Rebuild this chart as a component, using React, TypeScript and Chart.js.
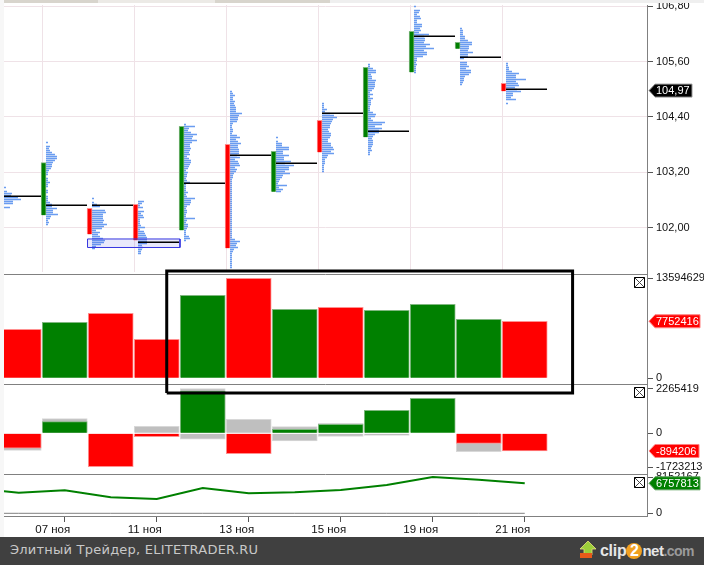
import React, { useEffect, useRef } from "react";
import { Chart, registerables } from "chart.js";

Chart.register(...registerables);

const days = ["06 ноя", "07 ноя", "08 ноя", "11 ноя", "12 ноя", "13 ноя", "14 ноя", "15 ноя", "18 ноя", "19 ноя", "20 ноя", "21 ноя"];
const direction = ["down", "up", "down", "down", "up", "down", "up", "down", "up", "up", "up", "down"];
const labelledDays = [1, 3, 5, 7, 9, 11];

const candleHigh = [null, 103.406, 102.416, 102.503, 104.195, 103.805, 103.653, 104.325, 105.475, 106.256, 106.017, 105.128];
const candleLow = [null, 102.265, 101.852, 101.722, 101.939, 101.549, 102.777, 103.631, 103.957, 105.367, 105.878, 104.955];
const pocPrice = [102.677, 102.482, 102.482, 101.679, 102.959, 103.566, 103.393, 104.477, 104.087, 106.148, 105.692, 104.998];
const profileTop = [102.868, 103.845, 102.63, 102.565, 104.235, 104.951, 103.953, 104.691, 105.537, 106.795, 106.318, 105.558];

const profile06 = [6, 0, 7, 12, 11, 18, 21, 13, 13, 4, 10];
const profile07 = [2, 0, 4, 3, 4, 6, 9, 11, 11, 9, 7, 6, 6, 5, 3, 2, 2, 0, 2, 2, 4, 2, 2, 0, 2, 2, 0, 2, 2, 2, 4, 6, 6, 11, 7, 7, 12, 5, 4, 2, 3, 2];
const profile08 = [2, 0, 2, 5, 8, 0, 13, 14, 11, 11, 11, 12, 11, 15, 12, 10, 4, 8, 6, 8, 11, 13, 12, 9, 4, 3];
const profile11 = [6, 4, 2, 5, 0, 6, 3, 5, 6, 2, 2, 2, 3, 7, 2, 6, 7, 8, 9, 9, 9, 9, 4, 5, 4, 3, 3];
const profile12 = [2, 11, 5, 4, 7, 13, 9, 8, 13, 8, 6, 6, 7, 6, 5, 6, 3, 5, 7, 7, 6, 5, 4, 2, 4, 3, 3, 2, 3, 6, 2, 2, 2, 2, 4, 2, 3, 11, 7, 7, 6, 3, 2, 3, 3, 2, 2, 11, 3, 2, 4, 4, 3, 2, 2, 2, 5, 6, 2];
const profile13 = [2, 3, 5, 3, 3, 5, 4, 5, 6, 6, 6, 12, 9, 8, 8, 7, 3, 2, 2, 3, 3, 2, 7, 10, 6, 8, 11, 8, 8, 9, 9, 9, 7, 10, 5, 8, 9, 10, 5, 7, 6, 4, 3, 3, 2, 2, 2, 2, 2, 2, 2, 2, 2, 2, 2, 2, 2, 2, 2, 2, 2, 2, 2, 2, 2, 2, 2, 2, 2, 2, 2, 2, 2, 2, 5, 10, 7, 6, 8, 4, 3, 2, 2, 2, 2, 2, 2, 2, 2];
const profile14 = [2, 0, 2, 6, 6, 13, 13, 7, 7, 13, 8, 8, 15, 9, 18, 13, 13, 9, 14, 7, 6, 4, 3, 2, 11, 3, 7, 5];
const profile15 = [2, 2, 2, 5, 3, 8, 12, 15, 11, 10, 9, 8, 8, 6, 7, 9, 9, 8, 6, 6, 9, 9, 11, 12, 9, 12, 6, 5, 3, 3, 3, 2, 2, 2, 2];
const profile18 = [2, 2, 5, 8, 8, 3, 4, 4, 8, 7, 7, 7, 6, 4, 2, 5, 2, 5, 3, 3, 3, 2, 2, 2, 5, 8, 7, 3, 5, 17, 14, 7, 14, 11, 11, 7, 5, 4, 5, 5, 5, 4, 3, 4, 2, 2];
const profile19 = [2, 0, 6, 5, 3, 6, 7, 3, 3, 8, 8, 6, 7, 5, 15, 10, 11, 11, 10, 16, 12, 20, 10, 13, 13, 9, 3, 3, 2, 3, 2, 2, 2, 2];
const profile20 = [2, 3, 3, 3, 5, 5, 8, 12, 12, 9, 9, 8, 13, 8, 8, 4, 0, 7, 7, 9, 6, 11, 11, 9, 5, 4, 4, 3, 2];
const profile21 = [2, 2, 3, 3, 6, 13, 10, 10, 20, 10, 12, 13, 9, 11, 15, 7, 7, 5, 10, 0, 2];
const profiles = [profile06, profile07, profile08, profile11, profile12, profile13, profile14, profile15, profile18, profile19, profile20, profile21];

const volume = [6660000, 7610000, 8840000, 5300000, 11280000, 13594629, 9380000, 9650000, 9240000, 10060000, 8020000, 7752416];
const deltaMain = [-758000, 590000, -1686000, -169000, 2140000, -1028000, 202000, 455000, 1163000, 1770000, -506000, -894206];
const deltaGrayUp = [null, 742000, null, 354000, 2265419, 708000, 337000, 506000, null, null, null, null];
const deltaGrayDown = [-860000, null, null, null, -303000, null, -388000, -152000, -101000, null, -927000, null];
const lineBefore = 5560000;
const lineValues = [4655000, 5180000, 3600000, 3230000, 5710000, 4505000, 4730000, 5256000, 6380000, 8152167, 7580000, 6757813];

const priceTicks = [106.8, 105.6, 104.4, 103.2, 102.0];
const volumeTicks = [13594629, 0];
const deltaTicks = [2265419, 0, -1723213];
const lineTicks = [8152167, 0];

const lastPrice = 104.97;
const lastVolume = 7752416;
const lastDelta = -894206;
const lastLine = 6757813;

const rangeBox = { x0: 1.495, x1: 3.505, low: 101.566, high: 101.751 };
const frameBox = { x0: 3.217, x1: 12.04, low: -2000000, high: 14600000 };

const PROFILE_STEP = 0.043393;
const DAY_PX = 46;
const RED = "#ff0000";
const GREEN = "#008000";
const PALE_RED = "#ff9090";
const PALE_GREEN = "#80b880";
const AXIS_GRAY = "#808080";
const GRID_PINK = "#efe2e7";
const FONT = "Liberation Sans";

const pick = (i: number, up: string, down: string) => (direction[i] === "up" ? up : down);
const sign = (v: number, up: string, down: string) => (v >= 0 ? up : down);
const xy = (values: (number | null)[]) => values.map((y, x) => ({ x, y }));
const box = (b: { x0: number; x1: number; low: number; high: number }) => [
  { x: b.x0, y: b.low },
  { x: b.x0, y: b.high },
  { x: b.x1, y: b.high },
  { x: b.x1, y: b.low },
  { x: b.x0, y: b.low },
];

const profilePoints: { x: number; y: number }[] = [];
profiles.forEach((rows, day) => {
  const start = day - 0.408;
  rows.forEach((len, k) => {
    if (!len) return;
    const y = profileTop[day] - k * PROFILE_STEP;
    profilePoints.push({ x: start, y }, { x: start + len / DAY_PX, y }, { x: start, y: NaN });
  });
});

const pocPoints: { x: number; y: number }[] = [];
pocPrice.forEach((y, day) => {
  pocPoints.push({ x: day - 0.408, y }, { x: day + 0.484, y }, { x: day, y: NaN });
});

const panePlugin = {
  id: "panes",
  beforeDatasetsDraw(chart: any) {
    const { ctx, chartArea, scales } = chart;
    ctx.save();
    ctx.lineWidth = 1;
    ctx.strokeStyle = GRID_PINK;
    labelledDays.forEach((d) => {
      const x = Math.round(scales.x.getPixelForValue(d - 0.5)) + 0.5;
      ctx.beginPath();
      ctx.moveTo(x, scales.y.top);
      ctx.lineTo(x, scales.y.bottom - 2);
      ctx.stroke();
    });
    ctx.strokeStyle = AXIS_GRAY;
    ["y", "yVol", "yDelta"].forEach((id) => {
      const y = Math.round(scales[id].bottom) + 0.5;
      ctx.beginPath();
      ctx.moveTo(chartArea.left, y);
      ctx.lineTo(chartArea.right, y);
      ctx.stroke();
    });
    ctx.restore();
  },
  afterDraw(chart: any) {
    const { ctx, chartArea, scales } = chart;
    const tag = (id: string, value: number, text: string, fill: string, stroke: string) => {
      const y = scales[id].getPixelForValue(value);
      const x0 = chartArea.right + 2;
      const right = id === "y" ? x0 + 43 : id === "yDelta" ? x0 + 50 : x0 + 51;
      ctx.save();
      ctx.fillStyle = fill;
      ctx.strokeStyle = stroke;
      ctx.lineWidth = 1;
      ctx.beginPath();
      ctx.moveTo(x0, y);
      ctx.lineTo(x0 + 6, y - 6.5);
      ctx.lineTo(right, y - 6.5);
      ctx.lineTo(right, y + 6.5);
      ctx.lineTo(x0 + 6, y + 6.5);
      ctx.closePath();
      ctx.fill();
      ctx.stroke();
      ctx.fillStyle = "#ffffff";
      ctx.font = `11px "${FONT}"`;
      ctx.textAlign = "left";
      ctx.textBaseline = "middle";
      ctx.fillText(text, x0 + 7, y + 0.5);
      ctx.restore();
    };
    tag("y", lastPrice, lastPrice.toFixed(2).replace(".", ","), "#000000", "#999999");
    tag("yVol", lastVolume, String(lastVolume), RED, "#ff8080");
    tag("yDelta", lastDelta, String(lastDelta), RED, "#ff8080");
    tag("yLine", lastLine, String(lastLine), GREEN, "#60a060");
    ["yVol", "yDelta", "yLine"].forEach((id) => {
      const cx = chartArea.right - 7.5;
      const top = Math.round(scales[id].top) + 3.5;
      ctx.save();
      ctx.strokeStyle = "#000000";
      ctx.fillStyle = "#ffffff";
      ctx.lineWidth = 1;
      ctx.fillRect(cx - 5, top, 10, 10);
      ctx.strokeRect(cx - 5, top, 10, 10);
      ctx.beginPath();
      ctx.moveTo(cx - 5, top);
      ctx.lineTo(cx + 5, top + 10);
      ctx.moveTo(cx + 5, top);
      ctx.lineTo(cx - 5, top + 10);
      ctx.strokeStyle = "#444444";
      ctx.stroke();
      ctx.restore();
    });
  },
};

const yAxis = (ticks: number[], min: number, max: number, weight: number, order: number, format: (v: number) => string, showGrid = false) => ({
  type: "linear",
  axis: "y",
  position: "right",
  stack: "panes",
  stackWeight: weight,
  weight: order,
  min,
  max,
  afterFit(scale: any) {
    scale.width = 57;
    scale.paddingTop = 0;
    scale.paddingBottom = 0;
  },
  afterBuildTicks(scale: any) {
    scale.ticks = ticks.map((value) => ({ value }));
  },
  grid: { color: GRID_PINK, tickColor: "#555555", tickLength: 6, drawOnChartArea: showGrid },
  border: { display: true, color: AXIS_GRAY },
  ticks: {
    autoSkip: false,
    padding: 3,
    color: "#111111",
    font: { family: FONT, size: 11 },
    callback: (v: any) => format(Number(v)),
  },
});

export default function App() {
  const ref = useRef<HTMLCanvasElement | null>(null);
  useEffect(() => {
    const chart = new Chart(ref.current as HTMLCanvasElement, {
      type: "bar",
      plugins: [panePlugin],
      data: {
        datasets: [
          {
            type: "line",
            data: box(frameBox),
            xAxisID: "x",
            yAxisID: "yVol",
            borderColor: "#000000",
            borderWidth: 3,
            borderJoinStyle: "miter",
            pointRadius: 0,
            clip: false,
            order: 0,
          },
          {
            type: "line",
            data: pocPoints,
            yAxisID: "y",
            borderColor: "#000000",
            borderWidth: 1.5,
            pointRadius: 0,
            order: 1,
          },
          {
            type: "line",
            data: box(rangeBox),
            yAxisID: "y",
            borderColor: "#3636e0",
            borderWidth: 1,
            backgroundColor: "rgba(70,70,225,0.12)",
            fill: "shape",
            pointRadius: 0,
            order: 2,
          },
          {
            type: "bar",
            data: candleHigh.map((h, x) => ({ x: x - 0.46, y: h === null ? null : [candleLow[x], h] })),
            yAxisID: "y",
            grouped: false,
            barThickness: 5,
            borderWidth: 1,
            backgroundColor: days.map((_, i) => pick(i, GREEN, RED)),
            borderColor: days.map((_, i) => pick(i, PALE_GREEN, PALE_RED)),
            order: 3,
          },
          {
            type: "line",
            data: profilePoints,
            yAxisID: "y",
            borderColor: "#6a9cf0",
            borderWidth: 1.4,
            pointRadius: 0,
            order: 4,
          },
          {
            type: "bar",
            data: xy(volume),
            yAxisID: "yVol",
            grouped: false,
            barThickness: 45,
            borderWidth: 1,
            backgroundColor: days.map((_, i) => pick(i, GREEN, RED)),
            borderColor: days.map((_, i) => pick(i, PALE_GREEN, PALE_RED)),
            order: 5,
          },
          {
            type: "bar",
            data: xy(deltaMain),
            yAxisID: "yDelta",
            grouped: false,
            barThickness: 45,
            borderWidth: 1,
            backgroundColor: deltaMain.map((v) => sign(v, GREEN, RED)),
            borderColor: deltaMain.map((v) => sign(v, PALE_GREEN, PALE_RED)),
            order: 6,
          },
          {
            type: "bar",
            data: xy(deltaGrayUp),
            yAxisID: "yDelta",
            grouped: false,
            barThickness: 45,
            borderWidth: 1,
            backgroundColor: "#bfbfbf",
            borderColor: "#d8d8d8",
            order: 7,
          },
          {
            type: "bar",
            data: xy(deltaGrayDown),
            yAxisID: "yDelta",
            grouped: false,
            barThickness: 45,
            borderWidth: 1,
            backgroundColor: "#bfbfbf",
            borderColor: "#d8d8d8",
            order: 7,
          },
          {
            type: "line",
            data: [{ x: -1, y: lineBefore }, ...xy(lineValues)],
            yAxisID: "yLine",
            borderColor: GREEN,
            borderWidth: 2,
            pointRadius: 0,
            order: 8,
          },
          {
            type: "line",
            data: [{ x: -1, y: 0 }, ...lineValues.map((_, x) => ({ x, y: 0 }))],
            yAxisID: "yLine",
            borderColor: AXIS_GRAY,
            borderWidth: 1,
            pointRadius: 0,
            order: 9,
          },
        ] as any,
      },
      options: {
        animation: false,
        responsive: false,
        devicePixelRatio: 1,
        events: [],
        layout: { padding: { left: 4, top: 5, right: 0, bottom: 0 } },
        plugins: { legend: { display: false }, tooltip: { enabled: false }, title: { display: false } },
        scales: {
          x: {
            type: "linear",
            position: "bottom",
            offset: false,
            min: (4 - 18.75) / DAY_PX,
            max: (647 - 18.75) / DAY_PX,
            afterFit(scale: any) {
              scale.height = 49;
              scale.paddingLeft = 0;
              scale.paddingRight = 0;
            },
            afterBuildTicks(scale: any) {
              scale.ticks = labelledDays.map((value) => ({ value }));
            },
            grid: { offset: false, drawOnChartArea: false, color: "#555555", tickLength: 6 },
            border: { display: true, color: AXIS_GRAY },
            ticks: {
              autoSkip: false,
              maxRotation: 0,
              labelOffset: -12,
              padding: 1,
              color: "#111111",
              font: { family: FONT, size: 11.5 },
              callback: (v: any) => days[Number(v)],
            },
          },
          y: yAxis(priceTicks, 100.991, 106.827, 269, 1, (v) => v.toFixed(2).replace(".", ","), true),
          yVol: yAxis(volumeTicks, -775000, 14180000, 110, 2, (v) => String(v)),
          yDelta: yAxis(deltaTicks, -2033000, 2493000, 89.5, 3, (v) => String(v)),
          yLine: yAxis(lineTicks, -608000, 8965000, 42.5, 4, (v) => String(v)),
        } as any,
      },
    });
    return () => chart.destroy();
  }, []);

  return (
    <div style={{ position: "absolute", left: 0, top: 0, width: 704, height: 565, overflow: "hidden", background: "#ffffff" }}>
      <canvas ref={ref} width={704} height={565} style={{ position: "absolute", left: 0, top: 0, display: "block" }} />
      <div style={{ position: "absolute", left: 0, top: 0, width: 4, height: 537, background: "#f7f7f7" }} />
      <div style={{ position: "absolute", left: 4, top: 0, width: 94, height: 3, background: "#d8d5cd" }} />
      <div style={{ position: "absolute", left: 98, top: 0, width: 117, height: 3, background: "#eceae6" }} />
      <div style={{ position: "absolute", left: 215, top: 0, width: 115, height: 3, background: "#d8d5cd" }} />
      <div style={{ position: "absolute", left: 330, top: 0, width: 374, height: 3, background: "#efefef" }} />
      <div style={{ position: "absolute", left: 0, top: 537, width: 704, height: 28, background: "#404040" }}>
        <span style={{ position: "absolute", left: 10, top: 5, fontFamily: "DejaVu Sans", fontSize: 13, letterSpacing: 0.23, color: "#c8c8c8", whiteSpace: "nowrap" }}>
          Элитный Трейдер, ELITETRADER.RU
        </span>
        <svg width="18" height="18" style={{ position: "absolute", left: 579, top: 4 }} viewBox="0 0 18 18">
          <path d="M9 0 L17 8 H13 V14 H5 V8 H1 Z" fill="#9ccf3a" stroke="#e8e080" strokeWidth="0.8" />
          <rect x="1" y="12" width="12" height="5" fill="#e85a1a" />
        </svg>
        <span style={{ position: "absolute", left: 600, top: 1, fontFamily: FONT, fontWeight: 700, fontSize: 16, letterSpacing: -0.3, color: "#e6e6e6", whiteSpace: "nowrap", lineHeight: "26px" }}>
          clip
          <span style={{ display: "inline-block", width: 16, height: 16, lineHeight: "16px", borderRadius: 8, background: "#f2a020", color: "#ffffff", textAlign: "center" }}>2</span>
          <span style={{ fontSize: 15, letterSpacing: -0.5 }}>net</span>
          <span style={{ fontSize: 14, letterSpacing: -0.5, color: "#9a9a9a" }}>.com</span>
        </span>
      </div>
    </div>
  );
}
